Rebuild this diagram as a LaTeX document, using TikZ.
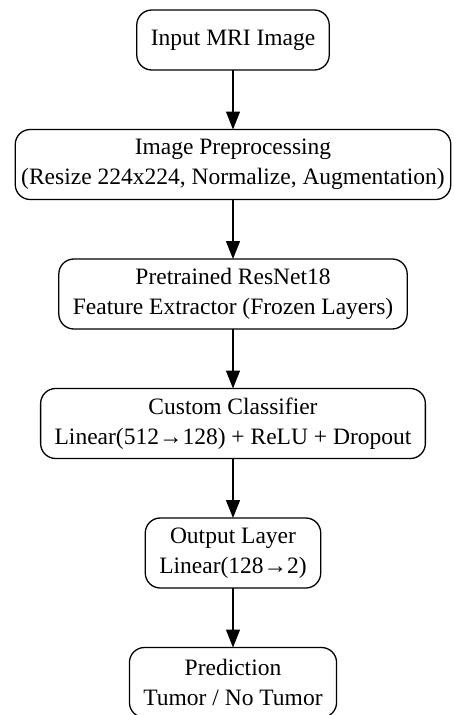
\documentclass[tikz,border=0pt]{standalone}
\usepackage{fontspec}
\setmainfont{Liberation Serif}
\usetikzlibrary{positioning,arrows.meta}

\begin{document}
\begin{tikzpicture}[x=1pt, y=1pt, node distance=59.5pt,
  box/.style={draw, line width=1.3pt, outer sep=0pt, rounded corners=15pt, fill=white, align=center,
    inner xsep=14pt, inner ysep=3pt, minimum height=70pt, font=\fontsize{23.5}{30}\selectfont},
  arr/.style={line width=1.3pt, -{Triangle[length=18pt, width=14pt]}}]

 \useasboundingbox (0,0) rectangle (454,-715);

 % boxes
 \node[box, minimum height=60pt] (inp) at (233,-40) {Input MRI Image};
 \node[box, below=of inp, inner xsep=6pt] (prep) {Image Preprocessing\\(Resize 224x224, Normalize, Augmentation)};
 \node[box, below=of prep] (resnet) {Pretrained ResNet18\\Feature Extractor (Frozen Layers)};
 \node[box, below=of resnet] (clf) {Custom Classifier\\Linear(512→128) + ReLU + Dropout};
 \node[box, below=of clf] (outl) {Output Layer\\Linear(128→2)};
 \node[box, below=of outl] (pred) {Prediction\\Tumor / No Tumor};

 % arrows
 \foreach \src/\dst in {inp/prep, prep/resnet, resnet/clf, clf/outl, outl/pred}
   \draw[arr] (\src.south) -- (\dst.north);

\end{tikzpicture}
\end{document}
